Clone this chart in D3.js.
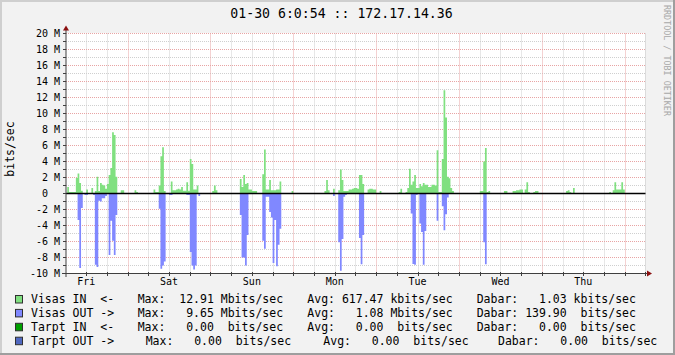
<!DOCTYPE html>
<html>
<head>
<meta charset="utf-8">
<script src="https://cdn.jsdelivr.net/npm/d3@7"></script>
<style>
  html, body { margin: 0; padding: 0; background: #f2f2f2; }
  svg { display: block; font-family: "DejaVu Sans Mono", monospace; }
  text { white-space: pre; }
</style>
</head>
<body>
<div id="graph"></div>
<script>
"use strict";

// Time window: one week ending 01-30 06:00:54, data in 30 minute slots
const startTime = new Date(2009, 0, 23, 6, 0, 54);
const endTime = new Date(2009, 0, 30, 6, 0, 54);
const slotMinutes = 30;
const slotCount = 336;

// [slot, Mbits/sec]
const visasIn = [
  [1, 0.8], [2, 0.2], [3, 0.2], [4, 0.2], [5, 0.2], [6, 1.95], [7, 2.5], [8, 1.3], [9, 0.35],
  [12, 0.5], [15, 0.7], [17, 0.3], [18, 2.1], [19, 0.3], [20, 1.3], [21, 1.1], [22, 1.0],
  [23, 0.6], [24, 1.2], [25, 2.3], [26, 3.2], [27, 7.65], [28, 7.3], [29, 2.1], [32, 0.4],
  [33, 0.4], [40, 0.4], [41, 0.2], [51, 0.5], [52, 0.2], [53, 0.2], [54, 1.0], [55, 4.66],
  [56, 5.78], [57, 0.3], [61, 1.5], [62, 0.4], [63, 0.4], [64, 0.5], [65, 0.6], [66, 0.5],
  [67, 0.8], [68, 0.35], [69, 0.35], [70, 1.4], [71, 0.35], [72, 4.3], [73, 3.7], [74, 0.5],
  [75, 0.5], [76, 1.0], [85, 0.3], [86, 1.0], [87, 0.4],
  [101, 1.8], [102, 0.8], [103, 2.3], [104, 1.2], [105, 1.3], [106, 0.5], [107, 0.5],
  [108, 0.3], [109, 0.3], [110, 0.3], [114, 2.4], [115, 5.5], [116, 0.5], [117, 0.5],
  [118, 1.7], [119, 0.4], [120, 0.4], [121, 0.4], [122, 0.5], [123, 0.5], [124, 1.5],
  [131, 0.3], [150, 0.3], [151, 1.7], [152, 0.4], [155, 0.6], [158, 0.4], [159, 3.0],
  [160, 1.7], [161, 0.3], [162, 0.3], [163, 0.3], [164, 0.5], [165, 0.5], [166, 0.6],
  [167, 0.7], [168, 0.7], [169, 0.6], [170, 2.3], [171, 2.3], [172, 1.2], [175, 0.5],
  [176, 0.6], [177, 0.6], [178, 0.5], [179, 0.5], [182, 0.3],
  [193, 0.2], [194, 0.6], [197, 0.2], [198, 0.7], [199, 3.1], [200, 1.1], [201, 1.5],
  [202, 2.3], [203, 0.7], [204, 0.7], [205, 1.2], [206, 0.9], [207, 1.3], [208, 1.1],
  [209, 1.1], [210, 0.8], [211, 0.8], [212, 1.1], [213, 1.1], [214, 1.0], [215, 5.4],
  [216, 0.2], [217, 0.2], [218, 4.3], [219, 12.91], [220, 9.5], [221, 2.1], [222, 1.9],
  [223, 0.7], [224, 0.3], [240, 0.3], [241, 0.3], [242, 4.0], [243, 5.7], [244, 0.2],
  [245, 0.3], [254, 0.3], [255, 0.3], [259, 0.3], [260, 0.3], [261, 0.4], [262, 0.4],
  [263, 0.5], [264, 0.5], [266, 0.5], [267, 1.4], [268, 0.2], [271, 0.2], [272, 0.3],
  [273, 0.3], [290, 0.3], [291, 0.4], [292, 0.2], [294, 0.7], [315, 0.2], [317, 0.4],
  [318, 1.4], [319, 0.5], [320, 0.5], [321, 0.5], [322, 1.4], [323, 0.5],
];

// outgoing traffic, drawn below zero
const visasOut = [
  [7, 3.3], [8, 9.3], [9, 1.8], [11, 0.2], [12, 0.2], [16, 0.2], [17, 8.9], [18, 9.2],
  [19, 0.9], [20, 1.0], [21, 0.6], [22, 0.6], [23, 0.3], [25, 7.7], [26, 3.4], [27, 5.9],
  [28, 7.7], [29, 2.7], [54, 1.9], [55, 9.4], [56, 9.0], [57, 8.5], [60, 0.2], [61, 0.2],
  [70, 0.2], [71, 0.2], [72, 7.3], [73, 9.0], [74, 9.5], [75, 9.0], [77, 0.3],
  [101, 2.7], [102, 8.0], [103, 8.0], [104, 9.0], [105, 5.2], [114, 5.9], [115, 6.9],
  [116, 0.4], [117, 0.4], [118, 2.3], [119, 3.0], [120, 8.7], [121, 3.3], [122, 9.1],
  [123, 6.4], [124, 4.4], [155, 0.3], [158, 6.1], [159, 9.65], [160, 5.7], [161, 0.4],
  [162, 0.2], [170, 5.55], [171, 8.85], [172, 5.2], [200, 2.5], [201, 8.8], [202, 8.9],
  [203, 0.2], [205, 3.75], [206, 4.8], [207, 8.9], [208, 4.7], [215, 3.4], [218, 1.6],
  [219, 4.6], [220, 2.6], [221, 0.5], [242, 6.1], [243, 8.85],
];

// Legend
const legendNames = ["Visas IN  <-", "Visas OUT ->", "Tarpt IN  <-", "Tarpt OUT ->"];
const legendColors = ["#80e080", "#8088ff", "#00a000", "#5068c0"];
const maxValues = [12.91, 9.65, 0, 0];
const maxUnits = ["M", "M", " ", " "];
const avgValues = [617.47, 1.08, 0, 0];
const avgUnits = ["k", "M", " ", " "];
const lastValues = [1.03, 139.9, 0, 0];
const lastUnits = ["k", " ", " ", " "];

const title = "01-30 6:0:54 :: 172.17.14.36";
const yTicks = d3.range(-10, 21, 2);

const w = 675;
const h = 355;
const plot = { left: 66, right: 645.5, top: 33.5, bottom: 273.5 };

const svg = d3.select("#graph").append("svg").attr("width", w).attr("height", h);

// background + 3d shade
svg.append("rect").attr("width", w).attr("height", h).attr("fill", "#f2f2f2");
svg.append("rect").attr("width", w).attr("height", 2).attr("fill", "#cfcfcf");
svg.append("rect").attr("width", 2).attr("height", h).attr("fill", "#cfcfcf");
svg.append("rect").attr("y", h - 2).attr("width", w).attr("height", 2).attr("fill", "#9e9e9e");
svg.append("rect").attr("x", w - 2).attr("width", 2).attr("height", h).attr("fill", "#9e9e9e");

const x = d3.scaleTime().domain([startTime, endTime]).range([65.5, 645.5]);
const y = d3.scaleLinear().domain([-10, 20]).range([plot.bottom, plot.top]);

svg
  .append("rect")
  .attr("x", 66)
  .attr("y", 33)
  .attr("width", 580)
  .attr("height", 241)
  .attr("fill", "#ffffff");

// Grid
const grid = svg.append("g").attr("stroke-dasharray", "1,1").attr("stroke-width", 1);

const minorTimes = d3.timeHour.every(6).range(startTime, endTime).concat([d3.timeHour.floor(endTime)]);
const dayTimes = d3.timeDay.range(startTime, endTime);

grid
  .selectAll(".hminor")
  .data(d3.range(-10, 21).filter((d) => d % 2 !== 0))
  .enter()
  .append("line")
  .attr("x1", plot.left)
  .attr("x2", plot.right)
  .attr("y1", (d) => y(d))
  .attr("y2", (d) => y(d))
  .attr("stroke", "#cfcfcf");

grid
  .selectAll(".vminor")
  .data(minorTimes.filter((t) => t.getHours() !== 0))
  .enter()
  .append("line")
  .attr("x1", (d) => Math.round(x(d)) + 0.5)
  .attr("x2", (d) => Math.round(x(d)) + 0.5)
  .attr("y1", plot.top)
  .attr("y2", plot.bottom)
  .attr("stroke", "#cfcfcf");

grid
  .selectAll(".hmajor")
  .data(yTicks)
  .enter()
  .append("line")
  .attr("x1", plot.left)
  .attr("x2", plot.right)
  .attr("y1", (d) => y(d))
  .attr("y2", (d) => y(d))
  .attr("stroke", "#e8a4a4");

grid
  .selectAll(".vmajor")
  .data(dayTimes)
  .enter()
  .append("line")
  .attr("x1", (d) => Math.round(x(d)) + 0.5)
  .attr("x2", (d) => Math.round(x(d)) + 0.5)
  .attr("y1", plot.top)
  .attr("y2", plot.bottom)
  .attr("stroke", "#e8a4a4");

// Areas
const slotTime = (s) => new Date(startTime.getTime() + s * slotMinutes * 60000);

const dense = (pairs, sign) => {
  const values = new Array(slotCount + 1).fill(0);
  pairs.forEach(([s, v]) => (values[s] = sign * v));
  return values.map((v, i) => ({ t: slotTime(i), v }));
};

const area = d3
  .area()
  .curve(d3.curveStepAfter)
  .x((d) => x(d.t))
  .y0(y(0))
  .y1((d) => y(d.v));

svg.append("path").datum(dense(visasIn, 1)).attr("d", area).attr("fill", legendColors[0]);
svg.append("path").datum(dense(visasOut, -1)).attr("d", area).attr("fill", legendColors[1]);

// zero line
svg
  .append("line")
  .attr("x1", plot.left)
  .attr("x2", plot.right)
  .attr("y1", y(0))
  .attr("y2", y(0))
  .attr("stroke", "#000")
  .attr("stroke-width", 1.5);

// Axes
const axisColor = "#404040";
const arrowColor = "#8b1010";

svg
  .append("line")
  .attr("x1", 62)
  .attr("x2", 648)
  .attr("y1", plot.bottom)
  .attr("y2", plot.bottom)
  .attr("stroke", axisColor);
svg
  .append("line")
  .attr("x1", 66)
  .attr("x2", 66)
  .attr("y1", 277)
  .attr("y2", 30)
  .attr("stroke", axisColor);
svg.append("path").attr("d", "M647,270.5L652,273.5L647,276.5Z").attr("fill", arrowColor);
svg.append("path").attr("d", "M63,30.5L66,25.5L69,30.5Z").attr("fill", arrowColor);

// small ticks along the axes
svg
  .selectAll(".xtick")
  .data(minorTimes)
  .enter()
  .append("line")
  .attr("x1", (d) => Math.round(x(d)) + 0.5)
  .attr("x2", (d) => Math.round(x(d)) + 0.5)
  .attr("y1", 272)
  .attr("y2", 276)
  .attr("stroke", axisColor);

svg
  .selectAll(".ytick")
  .data(d3.range(-10, 21))
  .enter()
  .append("line")
  .attr("x1", 63)
  .attr("x2", 66)
  .attr("y1", (d) => y(d))
  .attr("y2", (d) => y(d))
  .attr("stroke", axisColor);

// Y labels
svg
  .selectAll(".ylabel")
  .data(yTicks)
  .enter()
  .append("text")
  .attr("x", 60)
  .attr("y", (d) => y(d) + 3.5)
  .attr("text-anchor", "end")
  .attr("font-size", 10)
  .attr("fill", "#000")
  .text((d) => (d === 0 ? "0  " : `${d} M`));

// Day labels at noon
svg
  .selectAll(".xlabel")
  .data(dayTimes.map((d) => d3.timeHour.offset(d, -12)))
  .enter()
  .append("text")
  .attr("x", (d) => x(d))
  .attr("y", 285)
  .attr("text-anchor", "middle")
  .attr("font-size", 10)
  .attr("fill", "#000")
  .text((d) => d3.timeFormat("%a")(d));

// Title, axis title, watermark
svg
  .append("text")
  .attr("x", 341.5)
  .attr("y", 18.3)
  .attr("text-anchor", "middle")
  .attr("font-size", 13.2)
  .attr("fill", "#000")
  .text(title);

svg
  .append("text")
  .attr("transform", "translate(14,149) rotate(-90)")
  .attr("text-anchor", "middle")
  .attr("font-size", 11.5)
  .attr("fill", "#000")
  .text("bits/sec");

svg
  .append("text")
  .attr("transform", "translate(663.5,5) rotate(90)")
  .attr("font-size", 8.4)
  .attr("fill", "#a8a8a8")
  .text("RRDTOOL / TOBI OETIKER");

// Legend rows
const fmt = d3.format("6.2f");
const colMax = [137.7, 137.7, 137.7, 145.7];
const colAvg = [307.3, 307.3, 307.3, 323.3];
const colLast = [476.7, 476.7, 476.7, 498];

const rows = svg
  .selectAll(".legend-row")
  .data(legendNames)
  .enter()
  .append("g")
  .attr("transform", (d, i) => `translate(0, ${303.3 + i * 13.9})`)
  .attr("font-size", 11.5)
  .attr("fill", "#000");

rows
  .append("rect")
  .attr("x", 15.5)
  .attr("y", -7.8)
  .attr("width", 7)
  .attr("height", 7.5)
  .attr("fill", (d, i) => legendColors[i])
  .attr("stroke", "#303030");

rows.append("text").attr("x", 31).text((d) => d);
rows
  .append("text")
  .attr("x", (d, i) => colMax[i])
  .text((d, i) => `Max: ${fmt(maxValues[i])} ${maxUnits[i]}bits/sec`);
rows
  .append("text")
  .attr("x", (d, i) => colAvg[i])
  .text((d, i) => `Avg: ${fmt(avgValues[i])} ${avgUnits[i]}bits/sec`);
rows
  .append("text")
  .attr("x", (d, i) => colLast[i])
  .text((d, i) => `Dabar: ${fmt(lastValues[i])} ${lastUnits[i]}bits/sec`);
</script>
</body>
</html>
